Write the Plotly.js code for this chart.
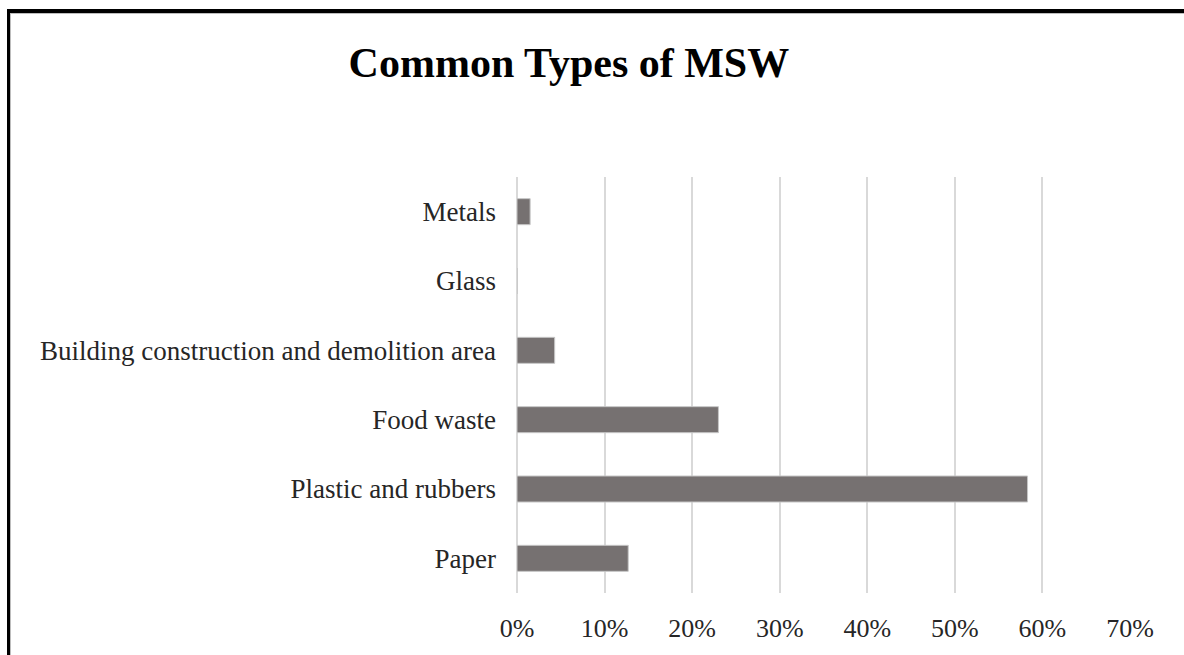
<!DOCTYPE html>
<html>
<head>
<meta charset="utf-8">
<script src="https://cdn.plot.ly/plotly-3.0.1.min.js"></script>
<style>
  html, body { margin: 0; padding: 0; background: #fff; }
  #wrap { position: relative; width: 1184px; height: 655px; overflow: hidden; }
  #chart { position: absolute; left: 0; top: 0; width: 1184px; height: 655px; }
  #frame { position: absolute; left: 7px; top: 9px; width: 1300px; height: 700px;
           border-left: 3px solid #000; border-top: 4px solid #000; pointer-events: none;
           box-shadow: inset 1px 1px 0 #bdbdbd; }
</style>
</head>
<body>
<div id="wrap">
  <div id="chart"></div>
  <div id="frame"></div>
</div>
<script>
const categories = ["Paper", "Plastic and rubbers", "Food waste",
                    "Building construction and demolition area", "Glass", "Metals"];
const shares = [0.127, 0.583, 0.230, 0.043, 0.0, 0.015];
const xTickValues = [0, 0.1, 0.2, 0.3, 0.4, 0.5, 0.6, 0.7];

const serif = "'Liberation Serif', 'Times New Roman', serif";

const trace = {
  type: "bar",
  orientation: "h",
  y: categories,
  x: shares,
  marker: { color: "#767171", line: { color: "#c6c6c6", width: 1 } },
  hoverinfo: "none"
};

const layout = {
  width: 1184,
  height: 655,
  paper_bgcolor: "#ffffff",
  plot_bgcolor: "#ffffff",
  margin: { l: 517, r: 54, t: 177, b: 62 },
  bargap: 0.625,
  showlegend: false,
  title: {
    text: "<b>Common Types of MSW</b>",
    font: { family: serif, size: 42, color: "#000000" },
    x: 0.4805, xanchor: "center", xref: "container",
    y: 0.905, yanchor: "middle", yref: "container"
  },
  xaxis: {
    range: [0, 0.7],
    tickvals: xTickValues,
    tickformat: ".0%",
    showgrid: true,
    gridcolor: "#d9d9d9",
    gridwidth: 2,
    zeroline: true,
    zerolinecolor: "#d9d9d9",
    zerolinewidth: 2,
    showline: false,
    ticks: "",
    ticklabelstandoff: 17,
    tickfont: { family: serif, size: 26, color: "#262626" },
    fixedrange: true
  },
  yaxis: {
    type: "category",
    showgrid: false,
    zeroline: false,
    showline: false,
    ticks: "",
    ticklabelstandoff: 20,
    tickfont: { family: serif, size: 27, color: "#262626" },
    fixedrange: true
  }
};

Plotly.newPlot("chart", [trace], layout, { displayModeBar: false, staticPlot: true });
</script>
</body>
</html>
